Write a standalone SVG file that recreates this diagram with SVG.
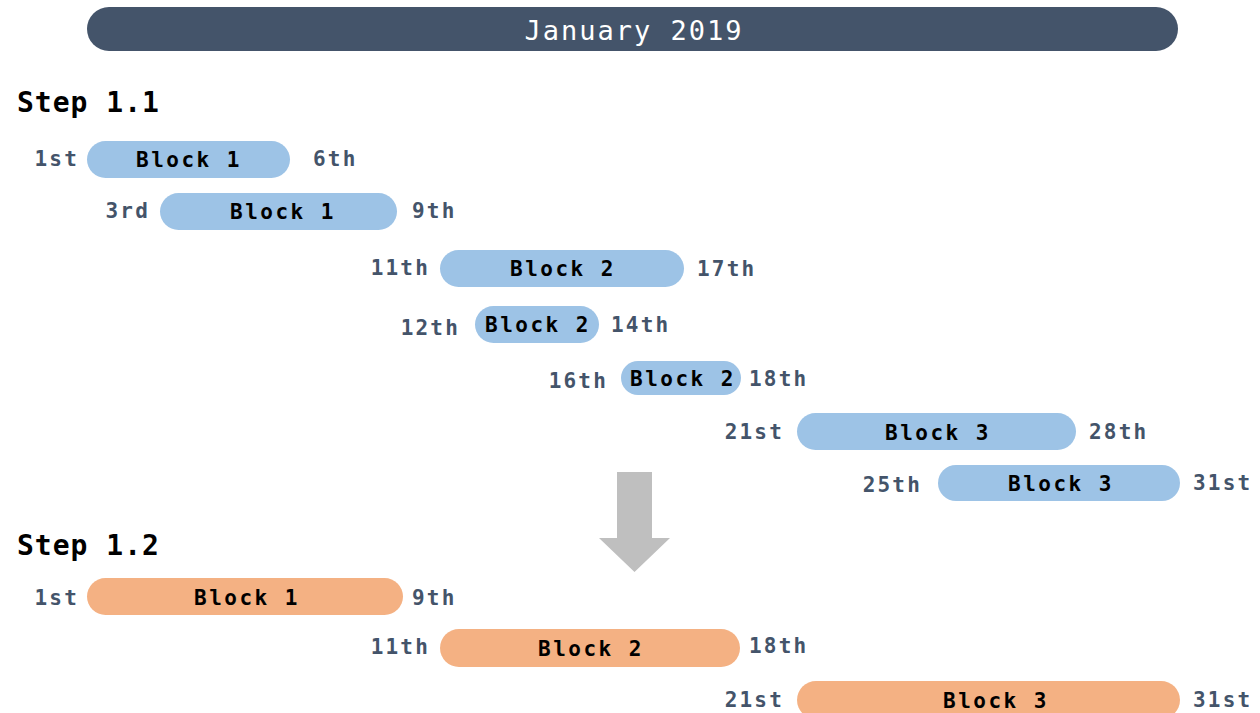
<svg xmlns="http://www.w3.org/2000/svg" width="1260" height="713" viewBox="0 0 1260 713">
<style>
.lbl{font-family:"DejaVu Sans Mono","Liberation Mono",monospace;font-weight:bold;font-size:21px;fill:#44546a;letter-spacing:2.2px}
.l{text-anchor:end}
.blk{font-family:"DejaVu Sans Mono","Liberation Mono",monospace;font-weight:bold;font-size:21px;fill:#000;letter-spacing:2.5px;text-anchor:middle}
.step{font-family:"DejaVu Sans Mono","Liberation Mono",monospace;font-weight:bold;font-size:28px;fill:#000;letter-spacing:1px}
.blue{fill:#9dc3e6}
.orange{fill:#f4b183}
</style>
<rect x="87" y="7" width="1091" height="44" rx="22" fill="#44546a"/>
<text x="634" y="40" text-anchor="middle" font-family="DejaVu Sans Mono,Liberation Mono,monospace" font-size="27" fill="#fff" letter-spacing="2">January 2019</text>
<text class="step" x="17" y="112">Step 1.1</text>
<text class="step" x="17" y="555">Step 1.2</text>

<g id="s11-b1a"><rect class="blue" x="87" y="141" width="203" height="37" rx="18.5"/><text class="blk" x="189" y="167">Block 1</text><text class="lbl l" x="79" y="166">1st</text><text class="lbl" x="313" y="166">6th</text></g>
<g id="s11-b1b"><rect class="blue" x="160" y="193" width="237" height="37" rx="18.5"/><text class="blk" x="283" y="219">Block 1</text><text class="lbl l" x="150" y="218">3rd</text><text class="lbl" x="412" y="218">9th</text></g>
<g id="s11-b2a"><rect class="blue" x="440" y="250" width="244" height="37" rx="18.5"/><text class="blk" x="563" y="276">Block 2</text><text class="lbl l" x="430" y="275">11th</text><text class="lbl" x="697" y="276">17th</text></g>
<g id="s11-b2b"><rect class="blue" x="475" y="306" width="124" height="37" rx="18.5"/><text class="blk" x="538" y="332">Block 2</text><text class="lbl l" x="460" y="335">12th</text><text class="lbl" x="611" y="332">14th</text></g>
<g id="s11-b2c"><rect class="blue" x="621" y="361" width="120" height="34" rx="17"/><text class="blk" x="683" y="386">Block 2</text><text class="lbl l" x="608" y="388">16th</text><text class="lbl" x="749" y="386">18th</text></g>
<g id="s11-b3a"><rect class="blue" x="797" y="413" width="279" height="37" rx="18.5"/><text class="blk" x="938" y="440">Block 3</text><text class="lbl l" x="784" y="439">21st</text><text class="lbl" x="1089" y="439">28th</text></g>
<g id="s11-b3b"><rect class="blue" x="938" y="465" width="242" height="36" rx="18"/><text class="blk" x="1061" y="491">Block 3</text><text class="lbl l" x="922" y="492">25th</text><text class="lbl" x="1193" y="490">31st</text></g>

<g id="arrow"><polygon points="617,472 652,472 652,538 670,538 634.5,572 599,538 617,538" fill="#bfbfbf"/></g>

<g id="s12-b1"><rect class="orange" x="87" y="578" width="316" height="37" rx="18.5"/><text class="blk" x="247" y="605">Block 1</text><text class="lbl l" x="79" y="605">1st</text><text class="lbl" x="412" y="605">9th</text></g>
<g id="s12-b2"><rect class="orange" x="440" y="629" width="300" height="38" rx="19"/><text class="blk" x="591" y="656">Block 2</text><text class="lbl l" x="430" y="654">11th</text><text class="lbl" x="749" y="653">18th</text></g>
<g id="s12-b3"><rect class="orange" x="797" y="681" width="383" height="38" rx="19"/><text class="blk" x="996" y="708">Block 3</text><text class="lbl l" x="784" y="707">21st</text><text class="lbl" x="1193" y="707">31st</text></g>
<g id="connectors"></g>
</svg>
